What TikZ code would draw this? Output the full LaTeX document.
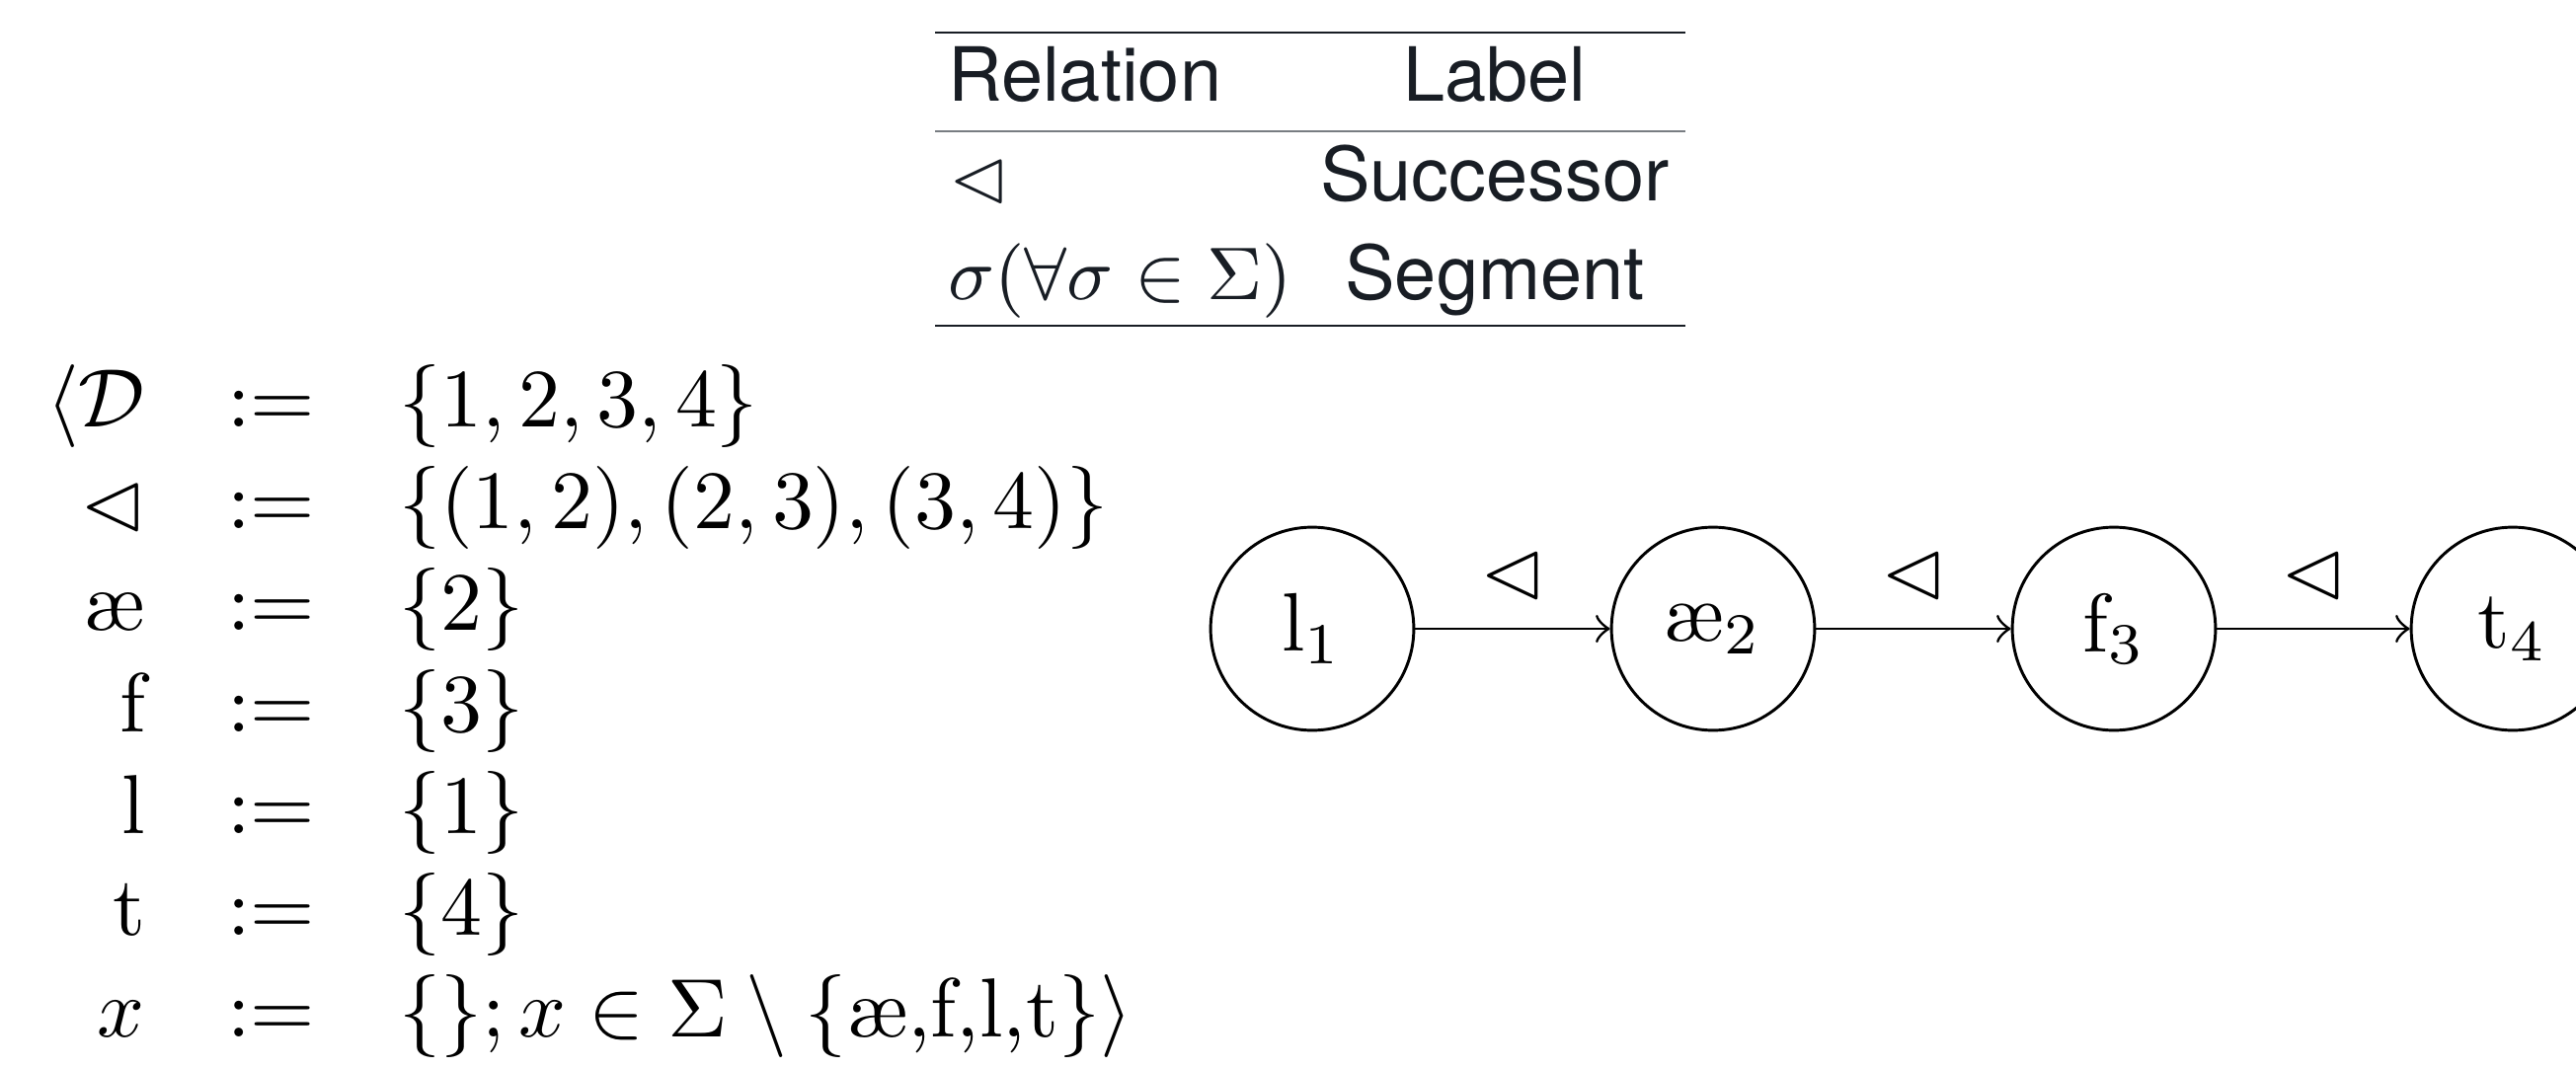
\documentclass[tikz,border=0pt]{standalone}
\usepackage{amssymb}
\usepackage{fontspec}
\newfontfamily\tabfont{TeX Gyre Heros}
\definecolor{tabink}{RGB}{24,29,36}
\definecolor{midgray}{RGB}{120,125,130}
\begin{document}
\begin{tikzpicture}[x=0.119048pt,y=-0.119048pt,
  tabtxt/.style={font=\tabfont\fontsize{9.02}{11}\selectfont, text=tabink, inner sep=0pt, outer sep=0pt},
  tabmath/.style={font=\fontsize{9.2}{11}\selectfont, text=tabink, inner sep=0pt, outer sep=0pt},
  eqtxt/.style={font=\fontsize{10.1}{12}\selectfont, inner sep=0pt, outer sep=0pt},
  rulethick/.style={draw=tabink, line width=0.17pt},
  rulethin/.style={draw=midgray, line width=0.17pt},
  state/.style={circle, draw, line width=0.35pt, minimum size=24.5pt, inner sep=0pt, outer sep=0.175pt, font=\fontsize{10}{12}\selectfont},
  rel/.style={->, line width=0.35pt},
  rellabel/.style={above, inner sep=3.333pt, font=\fontsize{10}{12}\selectfont}]
\useasboundingbox (0,0) rectangle (2609,1082);

% ---- table ----
\coordinate (tl) at (947,33);  \coordinate (tr) at (1707,33);
\coordinate (ml) at (947,133); \coordinate (mr) at (1707,133);
\coordinate (bl) at (947,330); \coordinate (br) at (1707,330);
\draw[rulethick] (tl) -- (tr);
\draw[rulethin] (ml) -- (mr);
\draw[rulethick] (bl) -- (br);
\node[tabtxt, anchor=base west] (h1) at (960,103) {Relation};
\node[tabtxt, anchor=base] (h2) at (1514,103) {Label};
\node[tabmath, anchor=base west] (r1a) at (961,203) {$\lhd$};
\node[tabtxt, anchor=base] (r1b) at (1514,203) {Successor};
\node[tabmath, anchor=base west] (r2a) at (960,303) {$\sigma(\forall\sigma\in\Sigma)$};
\node[tabtxt, anchor=base] (r2b) at (1514,303) {Segment};

% ---- definitions ----
\node[eqtxt, anchor=base east] (d1) at (147,432) {$\langle\mathcal{D}$};
\node[eqtxt, anchor=base] (e1) at (275,432) {$:=$};
\node[eqtxt, anchor=base west] (v1) at (404,432) {$\{1,2,3,4\}$};
\node[eqtxt, anchor=base east] (d2) at (147,535) {$\lhd$};
\node[eqtxt, anchor=base] (e2) at (275,535) {$:=$};
\node[eqtxt, anchor=base west] (v2) at (404,535) {$\{(1,2),(2,3),(3,4)\}$};
\node[eqtxt, anchor=base east] (d3) at (147,638) {$\mbox{\ae}$};
\node[eqtxt, anchor=base] (e3) at (275,638) {$:=$};
\node[eqtxt, anchor=base west] (v3) at (404,638) {$\{2\}$};
\node[eqtxt, anchor=base east] (d4) at (147,741) {$\mathrm{f}$};
\node[eqtxt, anchor=base] (e4) at (275,741) {$:=$};
\node[eqtxt, anchor=base west] (v4) at (404,741) {$\{3\}$};
\node[eqtxt, anchor=base east] (d5) at (147,844) {$\mathrm{l}$};
\node[eqtxt, anchor=base] (e5) at (275,844) {$:=$};
\node[eqtxt, anchor=base west] (v5) at (404,844) {$\{1\}$};
\node[eqtxt, anchor=base east] (d6) at (147,947) {$\mathrm{t}$};
\node[eqtxt, anchor=base] (e6) at (275,947) {$:=$};
\node[eqtxt, anchor=base west] (v6) at (404,947) {$\{4\}$};
\node[eqtxt, anchor=base east] (d7) at (147,1050) {$x$};
\node[eqtxt, anchor=base] (e7) at (275,1050) {$:=$};
\node[eqtxt, anchor=base west] (v7) at (404,1050) {$\{\};x\in\Sigma\setminus\{\mbox{\ae,f,l,t}\}\rangle$};

% ---- graph ----
\node[state] (n1) at (1329,637) {$\mathrm{l}_1$};
\node[state] (n2) at (1735,637) {$\mbox{\ae}_2$};
\node[state] (n3) at (2141,637) {$\mathrm{f}_3$};
\node[state] (n4) at (2545,637) {$\mathrm{t}_4$};
\draw[rel] (n1) -- node[rellabel] (l12) {$\lhd$} (n2);
\draw[rel] (n2) -- node[rellabel] (l23) {$\lhd$} (n3);
\draw[rel] (n3) -- node[rellabel] (l34) {$\lhd$} (n4);
\end{tikzpicture}
\end{document}
